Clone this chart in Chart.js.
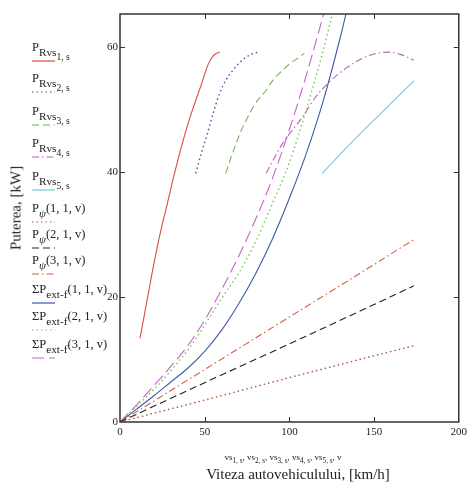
<!DOCTYPE html>
<html>
<head>
<meta charset="utf-8">
<script src="https://cdn.jsdelivr.net/npm/chart.js@4"></script>
<style>
  body { margin: 0; background: #fff; font-family: "Liberation Serif", "Times New Roman", serif; color: #222; }
  #wrap { position: relative; width: 471px; height: 483px; }
  canvas { position: absolute; left: 0; top: 0; }
  .lg { position: absolute; left: 32px; font-size: 12.5px; line-height: 12px; white-space: nowrap; }
  .lg sub { font-size: 90%; vertical-align: -0.4em; line-height: 0; }
  .lg sub sub { font-size: 85%; }
  .lg i { font-style: italic; }
  .sw { position: absolute; left: 32px; line-height: 0; }
  .sw svg { display: block; }
  #ytitle { position: absolute; left: 16px; top: 208px; font-size: 15px; transform: translate(-50%, -50%) rotate(-90deg); white-space: nowrap; }
  #xt1 { position: absolute; left: 283px; top: 452px; font-size: 9px; transform: translateX(-50%); white-space: nowrap; }
  #xt1 sub { font-size: 80%; vertical-align: -0.35em; line-height: 0; }
  #xt2 { position: absolute; left: 298px; top: 466px; font-size: 15px; transform: translateX(-50%); white-space: nowrap; }
</style>
</head>
<body>
<div id="wrap">
  <canvas id="c" width="471" height="483"></canvas>
  <div id="ytitle">Puterea, [kW]</div>
  <div id="xt1">vs<sub>1, s</sub>, vs<sub>2, s</sub>, vs<sub>3, s</sub>, vs<sub>4, s</sub>, vs<sub>5, s</sub>, v</div>
  <div id="xt2">Viteza autovehiculului, [km/h]</div>
</div>
<script>
// Puterea la roata in fiecare treapta (curbe de putere)
const vRvs1 = [11.8, 16, 20, 24, 28, 32, 36, 40, 44, 48, 52, 55, 57, 58.8];
const pRvs1 = [13.4, 19.5, 25.3, 30.5, 35, 39.6, 43.8, 47.6, 50.9, 54, 57.2, 58.6, 59.0, 59.2];
const vRvs2 = [44.7, 48, 51, 55, 58.8, 62.5, 66.7, 70.5, 74.5, 78, 81.4];
const pRvs2 = [39.8, 43, 45.6, 49.4, 52.6, 54.7, 56.3, 57.5, 58.4, 58.9, 59.2];
const vRvs3 = [62.4, 65.5, 68.6, 71.5, 74.5, 80, 86.3, 90, 94.1, 100, 105.9, 108.8];
const pRvs3 = [39.8, 42.3, 44.6, 46.6, 48.3, 51, 53.1, 54.6, 55.8, 57.3, 58.4, 59];
const vRvs4 = [86.3, 90, 96, 102, 107.8, 115.7, 123.5, 133.3, 143.1, 150, 158.8, 166, 173.5];
const pRvs4 = [39.8, 41.7, 44.6, 46.8, 48.8, 52.1, 54.4, 56.6, 58.2, 58.9, 59.2, 58.8, 57.9];
const vRvs5 = [119.4, 126, 133.3, 142, 151, 162.7, 173.5];
const pRvs5 = [39.8, 41.7, 43.8, 46.2, 48.6, 51.7, 54.6];

// Puterea la rulare (psi) - liniara
const vPsi = [0, 50, 100, 150, 173.5];
const pPsi1 = [0, 3.5, 7.1, 10.6, 12.2];
const pPsi2 = [0, 6.3, 12.5, 18.8, 21.8];
const pPsi3 = [0, 8.4, 16.8, 25.2, 29.2];

// Suma puterilor rezistente
const vExt1 = [0, 10, 20, 30, 40, 50, 60, 70, 80, 90, 100, 110, 120, 130, 134];
const pExt1 = [0, 2.1, 4.2, 6.4, 8.6, 11.3, 14.7, 18.9, 23.7, 29.3, 35.8, 43, 51.4, 61.5, 66];
const vExt2 = [0, 10, 20, 30, 40, 50, 60, 70, 80, 90, 100, 110, 120, 126];
const pExt2 = [0, 2.6, 5.2, 8.2, 11.5, 15.5, 19.8, 23.8, 28.8, 35, 41.5, 50, 59.5, 66];
const vExt3 = [0, 10, 20, 30, 40, 50, 60, 70, 80, 90, 100, 110, 121];
const pExt3 = [0, 2.8, 5.8, 8.9, 12.2, 16.3, 21.2, 26.5, 32.4, 39, 46.8, 55.5, 66];

const xTicks = [0, 50, 100, 150, 200];
const yTicks = [0, 20, 40, 60];

const solid = [], dot = [1.5, 3], dash = [7, 4], dashDot = [7, 3, 1.5, 3], longDash = [12, 5];

function pts(xs, ys) { return xs.map((x, i) => ({ x: x, y: ys[i] })); }

const series = [
  { label: 'P_Rvs1,s', html: 'P<sub>Rvs<sub>1, s</sub></sub>', data: pts(vRvs1, pRvs1), color: '#dc4a40', dashArr: solid, top: 61 },
  { label: 'P_Rvs2,s', html: 'P<sub>Rvs<sub>2, s</sub></sub>', data: pts(vRvs2, pRvs2), color: '#4c4c98', dashArr: dot, top: 92 },
  { label: 'P_Rvs3,s', html: 'P<sub>Rvs<sub>3, s</sub></sub>', data: pts(vRvs3, pRvs3), color: '#74b45a', dashArr: dash, top: 125 },
  { label: 'P_Rvs4,s', html: 'P<sub>Rvs<sub>4, s</sub></sub>', data: pts(vRvs4, pRvs4), color: '#b464b8', dashArr: dashDot, top: 157 },
  { label: 'P_Rvs5,s', html: 'P<sub>Rvs<sub>5, s</sub></sub>', data: pts(vRvs5, pRvs5), color: '#78c8d8', dashArr: solid, top: 190, straight: true },
  { label: 'Pψ(1,1,v)', html: 'P<sub><i>ψ</i></sub>(1, 1, v)', data: pts(vPsi, pPsi1), color: '#a85a3c', dashArr: dot, top: 222 },
  { label: 'Pψ(2,1,v)', html: 'P<sub><i>ψ</i></sub>(2, 1, v)', data: pts(vPsi, pPsi2), color: '#222222', dashArr: dash, top: 248 },
  { label: 'Pψ(3,1,v)', html: 'P<sub><i>ψ</i></sub>(3, 1, v)', data: pts(vPsi, pPsi3), color: '#d85a44', dashArr: dashDot, top: 274 },
  { label: 'ΣPext-f(1,1,v)', html: 'ΣP<sub>ext-f</sub>(1, 1, v)', data: pts(vExt1, pExt1), color: '#3c5aa8', dashArr: solid, top: 303 },
  { label: 'ΣPext-f(2,1,v)', html: 'ΣP<sub>ext-f</sub>(2, 1, v)', data: pts(vExt2, pExt2), color: '#78c45a', dashArr: dot, top: 330 },
  { label: 'ΣPext-f(3,1,v)', html: 'ΣP<sub>ext-f</sub>(3, 1, v)', data: pts(vExt3, pExt3), color: '#c464c8', dashArr: longDash, top: 358 }
];

// legenda in stil Mathcad: text, apoi mostra de linie dedesubt
const wrap = document.getElementById('wrap');
series.forEach(s => {
  const lab = document.createElement('div');
  lab.className = 'lg';
  lab.style.top = (s.top - 20) + 'px';
  lab.innerHTML = s.html;
  wrap.appendChild(lab);
  const sw = document.createElement('div');
  sw.className = 'sw';
  sw.style.top = (s.top - 2) + 'px';
  sw.innerHTML = '<svg width="24" height="4"><line x1="0" y1="2" x2="23" y2="2" stroke="' + s.color +
    '" stroke-width="1.2" stroke-dasharray="' + (s.dashArr.length ? s.dashArr.join(' ') : 'none') + '"/></svg>';
  wrap.appendChild(sw);
});

// cadru si gradatii spre interior
const boxPlugin = {
  id: 'box',
  afterDraw(chart) {
    const { ctx, chartArea: a, scales } = chart;
    ctx.save();
    ctx.strokeStyle = '#333';
    ctx.lineWidth = 1.5;
    ctx.strokeRect(a.left, a.top, a.right - a.left, a.bottom - a.top);
    ctx.lineWidth = 1;
    xTicks.slice(1, -1).forEach(v => {
      const x = Math.round(scales.x.getPixelForValue(v)) + 0.5;
      ctx.beginPath();
      ctx.moveTo(x, a.bottom); ctx.lineTo(x, a.bottom - 5);
      ctx.moveTo(x, a.top); ctx.lineTo(x, a.top + 5);
      ctx.stroke();
    });
    yTicks.slice(1).forEach(v => {
      const y = Math.round(scales.y.getPixelForValue(v)) + 0.5;
      ctx.beginPath();
      ctx.moveTo(a.left, y); ctx.lineTo(a.left + 5, y);
      ctx.moveTo(a.right, y); ctx.lineTo(a.right - 5, y);
      ctx.stroke();
    });
    ctx.restore();
  }
};

const ctx = document.getElementById('c').getContext('2d');
const chart = new Chart(ctx, {
  type: 'line',
  data: {
    datasets: series.map(s => ({
      label: s.label,
      data: s.data,
      borderColor: s.color,
      borderDash: s.dashArr,
      borderWidth: s.dashArr === dot ? 1.4 : 1.1,
      pointRadius: 0,
      fill: false,
      tension: s.straight ? 0 : 0.3,
      cubicInterpolationMode: 'monotone'
    }))
  },
  options: {
    responsive: false,
    animation: false,
    layout: { padding: { left: 90, right: 11, top: 14, bottom: 41 } },
    plugins: { legend: { display: false }, tooltip: { enabled: false } },
    scales: {
      x: {
        type: 'linear',
        min: 0, max: 200,
        afterFit: s => { s.height = 20; },
        grid: { display: false, drawTicks: false },
        border: { display: false },
        ticks: { stepSize: 50, padding: 4, color: '#222', font: { family: 'Liberation Serif', size: 11 } }
      },
      y: {
        min: 0, max: 65.3,
        afterFit: s => { s.width = 30; },
        grid: { display: false, drawTicks: false },
        border: { display: false },
        ticks: { stepSize: 20, includeBounds: false, padding: 2, color: '#222', font: { family: 'Liberation Serif', size: 11 } }
      }
    }
  },
  plugins: [boxPlugin]
});
</script>
</body>
</html>
